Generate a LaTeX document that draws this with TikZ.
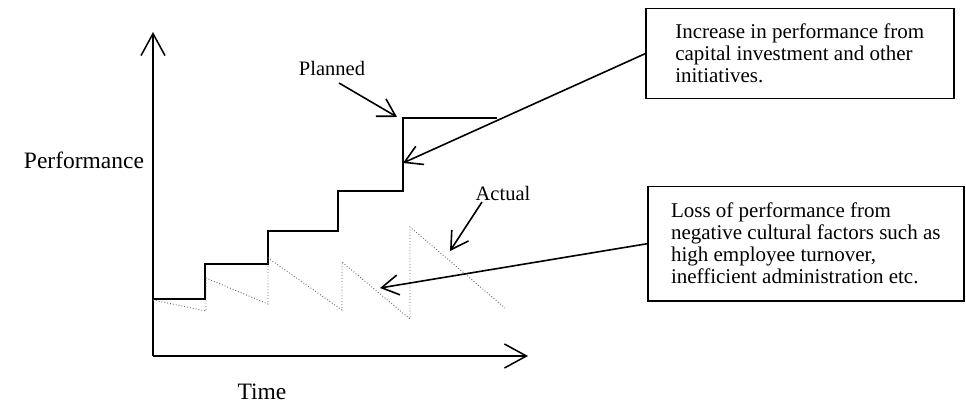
\documentclass[tikz,border=0pt]{standalone}
\usepackage{fontspec}
\setmainfont{Liberation Serif}
\usetikzlibrary{arrows.meta}
\begin{document}
\begin{tikzpicture}[x=1pt,y=-1pt,
  axisline/.style={line width=1.5pt,
    -{Straight Barb[length=22pt,width=24pt,line width=1.5pt]}},
  plan/.style={line width=1.8pt},
  actualline/.style={line width=0.9pt, gray!80!black, dotted},
  pointer/.style={line width=1.6pt,
    -{Straight Barb[length=17pt,width=20pt,line width=1.6pt]}},
  callout/.style={draw, line width=1.5pt, align=left,
    font=\fontsize{21}{22}\selectfont, inner sep=0pt},
  axislabel/.style={font=\fontsize{23.5}{26}\selectfont},
  curvelabel/.style={font=\fontsize{20.5}{22}\selectfont}]
\useasboundingbox (0,0) rectangle (966,403);

% axes
\coordinate (origin) at (153,356);
\coordinate (ytip) at (153,32);
\coordinate (xtip) at (528,356);
\draw[axisline] (origin) -- (ytip);
\draw[axisline] (origin) -- (xtip);
\node[axislabel] (perf) at (84,160) {Performance};
\node[axislabel] (time) at (262,392) {Time};

% planned performance: staircase
\draw[plan] (153,299) -| (205,264) -| (268,231) -| (338,191) -| (403,118) -- (497,118);

% actual performance: sawtooth
\draw[actualline] (153,300) -- (206,311) -- (206,278) -- (268,304) -- (268,258)
  -- (342,310) -- (342,262) -- (410,319) -- (410,227) -- (505,308);

% curve labels
\node[curvelabel] (planned) at (332,68) {Planned};
\coordinate (plannedtail) at (339,83);
\coordinate (plannedtip) at (397,117);
\draw[pointer] (plannedtail) -- (plannedtip);

\node[curvelabel] (actual) at (503,193) {Actual};
\coordinate (actualtail) at (482,202);
\coordinate (actualtip) at (450,251);
\draw[pointer] (actualtail) -- (actualtip);

% explanation boxes
\node[callout, minimum width=308pt, minimum height=90pt, anchor=north west]
  (inc) at (645,8)
  {Increase in performance from\\capital investment and other\\initiatives.};
\node[callout, minimum width=316pt, minimum height=114pt, anchor=north west]
  (loss) at (647,186)
  {Loss of performance from\\negative cultural factors such as\\high employee turnover,\\inefficient administration etc.};

\coordinate (inctip) at (403,163);
\coordinate (losstip) at (380,288);
\draw[pointer] (inc.west) -- (inctip);
\draw[pointer] (loss.west) -- (losstip);
\end{tikzpicture}
\end{document}
